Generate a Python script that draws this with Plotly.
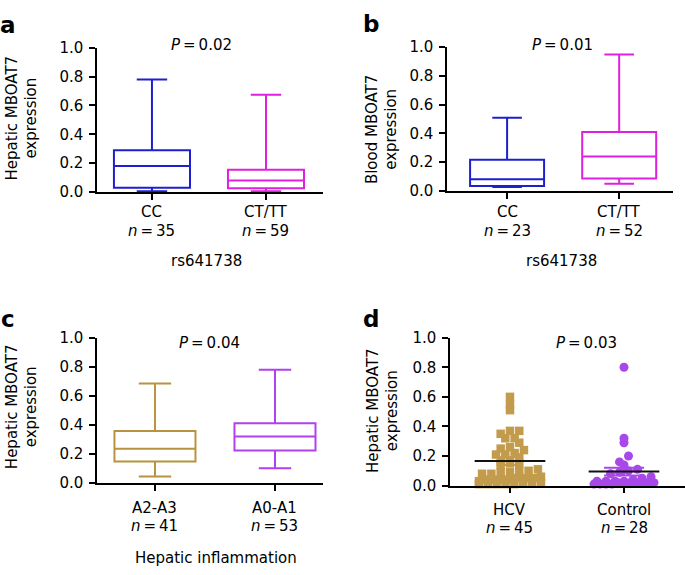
import plotly.graph_objects as go

W, H = 685, 575

# ---------------- data ----------------
a_groups = ["CC", "CT/TT"]
a_n = [35, 59]
a_min = [0.005, 0.005]
a_q1 = [0.030, 0.027]
a_median = [0.180, 0.080]
a_q3 = [0.290, 0.155]
a_max = [0.780, 0.675]

b_groups = ["CC", "CT/TT"]
b_n = [23, 52]
b_min = [0.027, 0.050]
b_q1 = [0.034, 0.085]
b_median = [0.081, 0.238]
b_q3 = [0.216, 0.410]
b_max = [0.508, 0.948]

c_groups = ["A2-A3", "A0-A1"]
c_n = [41, 53]
c_min = [0.044, 0.102]
c_q1 = [0.147, 0.224]
c_median = [0.236, 0.320]
c_q3 = [0.358, 0.411]
c_max = [0.684, 0.780]

d_groups = ["HCV", "Control"]
d_n = [45, 28]
hcv_values = [0.60, 0.55, 0.51, 0.37, 0.37, 0.35, 0.32, 0.32, 0.29, 0.26,
              0.25, 0.24, 0.22, 0.21, 0.21, 0.19, 0.17, 0.16, 0.15, 0.15,
              0.14, 0.11, 0.10, 0.10, 0.09, 0.09, 0.08, 0.08, 0.06, 0.05,
              0.05, 0.05, 0.04, 0.04, 0.04, 0.04, 0.03, 0.02, 0.02, 0.02,
              0.01, 0.01, 0.01, 0.01, 0.01]
control_values = [0.80, 0.32, 0.29, 0.20, 0.16, 0.14, 0.11, 0.10, 0.09, 0.08,
                  0.06, 0.05, 0.04, 0.03, 0.03, 0.03, 0.03, 0.02, 0.02, 0.02,
                  0.02, 0.02, 0.02, 0.02, 0.01, 0.01, 0.01, 0.01]
d_mean = [0.166, 0.095]
d_sem = [0.026, 0.026]

p_values = ["0.02", "0.01", "0.04", "0.03"]
y_ticks = [0.0, 0.2, 0.4, 0.6, 0.8, 1.0]

BLUE = "#1f1fd0"
MAGENTA = "#e020e0"
GOLD = "#b8933f"
PURPLE = "#b040f0"
GOLD_D = "#c29c4c"
PURPLE_D = "#a848ea"
FONT = "DejaVu Sans, Liberation Sans, Arial, sans-serif"
FS = 15


def px_x(x):
    return x / W


def px_y(y):
    return 1 - y / H


def row_offsets(values, bin_w, spacing_px, max_width_px, x_per_unit):
    """GraphPad-like scatter layout: values grouped in rows, centred side by side."""
    rows = {}
    for i, v in enumerate(values):
        rows.setdefault(int(round(v / bin_w)), []).append(i)
    offsets = [0.0] * len(values)
    for r, idxs in rows.items():
        idxs = sorted(idxs, key=lambda j: values[j])
        n = len(idxs)
        sp = spacing_px if n <= 1 else min(spacing_px, max_width_px / (n - 1))
        for k, j in enumerate(idxs):
            offsets[j] = (k - (n - 1) / 2) * sp / x_per_unit
    return offsets


fig = go.Figure()

panels = {
    "a": dict(xl=97, xr=323, y0=189, y1=40, xrange=[-0.482, 1.5]),
    "b": dict(xl=447, xr=673, y0=187.7, y1=39.3, xrange=[-0.536, 1.48]),
    "c": dict(xl=97, xr=323, y0=489.3, y1=339.3, xrange=[-0.483, 1.40]),
    "d": dict(xl=450, xr=685, y0=492, y1=339.3, xrange=[-0.526, 1.535]),
}
axis_ids = {"a": ("x", "y"), "b": ("x2", "y2"), "c": ("x3", "y3"), "d": ("x4", "y4")}

box_sets = [
    ("a", a_min, a_q1, a_median, a_q3, a_max, [BLUE, MAGENTA], 0.667),
    ("b", b_min, b_q1, b_median, b_q3, b_max, [BLUE, MAGENTA], 0.66),
    ("c", c_min, c_q1, c_median, c_q3, c_max, [GOLD, PURPLE], 0.675),
]
for key, mn, q1, md, q3, mx, cols, bw in box_sets:
    xa, ya = axis_ids[key]
    for i in range(2):
        fig.add_trace(go.Box(
            x=[i], q1=[q1[i]], median=[md[i]], q3=[q3[i]],
            lowerfence=[mn[i]], upperfence=[mx[i]],
            width=bw, whiskerwidth=0.4, boxpoints=False,
            line=dict(color=cols[i], width=2),
            fillcolor="rgba(0,0,0,0)",
            xaxis=xa, yaxis=ya, showlegend=False, hoverinfo="skip",
        ))

# panel d dot plot
xpu = 114.0
hcv_off = row_offsets(hcv_values, 0.045, 9.3, 62, xpu)
ctrl_off = row_offsets(control_values, 0.045, 9.0, 60, xpu)

fig.add_trace(go.Scatter(
    x=[0 + o for o in hcv_off], y=hcv_values, mode="markers",
    marker=dict(symbol="square", size=8.5, color=GOLD_D, line=dict(width=0)),
    xaxis="x4", yaxis="y4", showlegend=False, cliponaxis=False, hoverinfo="skip",
))
fig.add_trace(go.Scatter(
    x=[1 + o for o in ctrl_off], y=control_values, mode="markers",
    marker=dict(symbol="circle", size=9, color=PURPLE_D, line=dict(width=0)),
    xaxis="x4", yaxis="y4", showlegend=False, cliponaxis=False, hoverinfo="skip",
))
for i, col, cw in [(0, GOLD_D, 13), (1, PURPLE_D, 20)]:
    fig.add_trace(go.Scatter(
        x=[i], y=[d_mean[i]], mode="markers",
        marker=dict(size=1, color="rgba(0,0,0,0)"),
        error_y=dict(type="data", array=[d_sem[i]], color=col, thickness=2, width=cw),
        xaxis="x4", yaxis="y4", showlegend=False, hoverinfo="skip",
    ))
    fig.add_trace(go.Scatter(
        x=[i - 0.31, i + 0.31], y=[d_mean[i], d_mean[i]], mode="lines",
        line=dict(color="#111111", width=2),
        xaxis="x4", yaxis="y4", showlegend=False, hoverinfo="skip",
    ))

# axes
axis_common = dict(showline=True, linecolor="black", linewidth=1.5, ticks="outside",
                   ticklen=6, tickwidth=1.5, tickcolor="black", showgrid=False,
                   zeroline=False, tickfont=dict(family=FONT, size=FS, color="black"))
layout_axes = {}
for key, p in panels.items():
    xa, ya = axis_ids[key]
    xname = "xaxis" if xa == "x" else "xaxis" + xa[1:]
    yname = "yaxis" if ya == "y" else "yaxis" + ya[1:]
    layout_axes[xname] = dict(
        axis_common, domain=[px_x(p["xl"]), px_x(p["xr"])], range=p["xrange"],
        type="linear", tickvals=[0, 1], showticklabels=False, anchor=ya,
        fixedrange=True)
    layout_axes[yname] = dict(
        axis_common, domain=[px_y(p["y0"]), px_y(p["y1"])], range=[0, 1.0],
        tickvals=y_ticks, tickformat=".1f", anchor=xa, fixedrange=True,
        ticklabelstandoff=3)
fig.update_layout(**layout_axes)


def text_ann(x, y, txt, size=FS, angle=0, xref="paper"):
    return dict(x=x, y=px_y(y), xref=xref, yref="paper", text=txt, showarrow=False,
                textangle=angle, font=dict(family=FONT, size=size, color="black"),
                xanchor="center", yanchor="middle")


ann = []
# x category labels (group name + n)
label_sets = [("a", a_groups, a_n, 210, 229), ("b", b_groups, b_n, 210, 229),
              ("c", c_groups, c_n, 515, 534), ("d", d_groups, d_n, 517, 536)]
for key, groups, ns, yg, yn in label_sets:
    xa, _ = axis_ids[key]
    for i, (g, n) in enumerate(zip(groups, ns)):
        ann.append(text_ann(i, yg, g, xref=xa))
        ann.append(text_ann(i, yn, f"<i>n</i>\u2009=\u2009{n}", xref=xa))
# panel letters
for letter, (x, y) in {"a": (8, 17), "b": (371, 16), "c": (8, 320), "d": (371, 320)}.items():
    ann.append(text_ann(px_x(x), y, f"<b>{letter}</b>", size=23))
# P values
for pv, (x, y) in zip(p_values, [(201, 37), (562, 37), (209, 345), (586, 345)]):
    ann.append(text_ann(px_x(x), y, f"<i>P</i>\u2009=\u2009{pv}"))
# y titles
for txt, (x, y) in [("Hepatic MBOAT7<br>expression", (22, 113)),
                    ("Blood MBOAT7<br>expression", (382, 125)),
                    ("Hepatic MBOAT7<br>expression", (22, 411)),
                    ("Hepatic MBOAT7<br>expression", (383, 415))]:
    ann.append(text_ann(px_x(x), y, txt, angle=-90))
# x titles
for txt, (x, y) in [("rs641738", (206, 260)), ("rs641738", (561, 260)),
                    ("Hepatic inflammation", (216, 567))]:
    ann.append(text_ann(px_x(x), y, txt))

fig.update_layout(
    width=W, height=H, margin=dict(l=0, r=0, t=0, b=0),
    paper_bgcolor="white", plot_bgcolor="white",
    boxmode="overlay", annotations=ann, showlegend=False,
    font=dict(family=FONT, color="black"),
)

fig.write_html("out.html", config={"displayModeBar": False},
               post_script="document.body.style.margin='0';")
